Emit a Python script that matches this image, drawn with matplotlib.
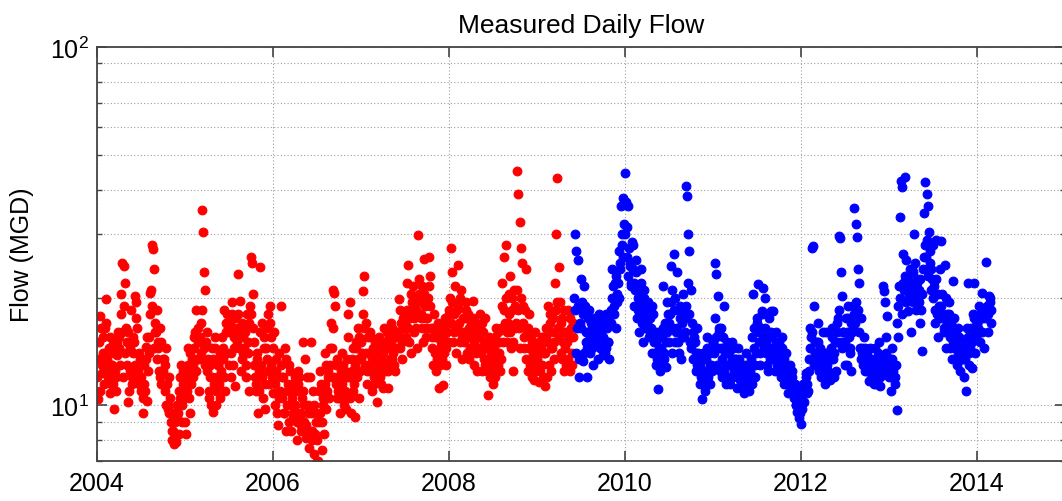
"""
plot.py

Measured daily flow (MGD) on a log axis, two periods shown in red and blue.
Values were read off the reference chart: two interleaved sets of six samples
per month (set "a" carries the peaks, set "b" the body of the band).
"""

import numpy as np
import matplotlib
matplotlib.use("Agg")
import matplotlib.pyplot as plt
from matplotlib.ticker import FixedLocator, LogLocator, NullFormatter

plt.rcParams["font.family"] = ["Liberation Sans", "DejaVu Sans"]
plt.rcParams["mathtext.fontset"] = "custom"
plt.rcParams["mathtext.rm"] = "Liberation Sans"
plt.rcParams["mathtext.it"] = "Liberation Sans:italic"
plt.rcParams["mathtext.bf"] = "Liberation Sans:bold"

# ---- data: flow in MGD, 6 samples per month in each set ----
RED_START = 2004.0            # Jan 2004
BLUE_START = 2009 + 5 / 12    # Jun 2009
SAMPLES_PER_YEAR = 72

red_2004 = [
    10.4, 13.5, 17.8, 12.3, 15.5, 11.5, 16.5, 19.8, 12.0, 14.5, 10.8, 13.0, 14.8, 9.8, 12.5, 11.0, 13.8, 15.5,
    13.0, 20.5, 25.0, 24.5, 22.0, 16.5, 15.0, 10.2, 12.5, 18.5, 11.5, 14.0, 20.2, 19.5, 16.5, 12.0, 14.0, 11.0,
    13.5, 9.5, 11.5, 14.6, 10.3, 12.5, 14.0, 20.6, 28.0, 27.3, 24.0, 17.0, 18.5, 15.0, 12.5, 16.5, 11.5, 13.5,
    13.5, 11.0, 14.5, 9.8, 12.0, 10.5, 9.5, 8.5, 7.8, 9.0, 8.2, 10.0, 8.3, 10.5, 13.0, 9.0, 11.5, 12.0,
]
red_2005 = [
    8.3, 11.0, 14.5, 9.5, 12.5, 13.5, 12.0, 15.5, 18.5, 13.5, 16.5, 11.0, 14.0, 35.0, 30.5, 23.5, 21.0, 16.0,
    13.5, 10.5, 12.0, 14.5, 9.6, 11.5, 15.5, 10.0, 13.0, 11.5, 14.0, 12.5, 14.5, 18.5, 11.0, 16.0, 18.0, 13.0,
    17.0, 12.0, 19.5, 14.5, 11.3, 16.0, 15.0, 23.3, 19.6, 12.5, 17.0, 14.0, 16.0, 12.0, 18.0, 14.0, 11.0, 26.0,
    25.0, 20.4, 15.0, 11.0, 13.5, 9.5, 12.5, 24.3, 17.0, 10.5, 14.5, 9.8, 13.5, 18.0, 11.5, 19.0, 15.5, 10.8,
]
red_2006 = [
    16.0, 10.0, 12.5, 8.8, 14.0, 11.0, 19.0, 12.0, 9.5, 14.5, 8.5, 11.0, 13.0, 10.0, 8.5, 11.5, 9.2, 12.0,
    11.0, 8.0, 12.5, 9.5, 8.5, 10.5, 15.0, 9.0, 8.1, 12.0, 10.0, 7.6, 15.0, 8.5, 11.0, 7.3, 9.5, 7.0,
    7.0, 9.0, 12.5, 7.5, 10.5, 8.3, 14.0, 9.8, 12.0, 10.5, 13.0, 17.0, 21.0, 20.6, 19.0, 13.0, 10.5, 12.0,
    9.5, 11.5, 14.0, 10.5, 12.5, 9.8, 12.0, 18.0, 19.5, 9.5, 13.5, 11.0, 9.3, 15.0, 12.0, 16.5, 10.5, 13.5,
]
red_2007 = [
    14.0, 20.8, 23.0, 17.0, 11.5, 15.5, 13.0, 16.0, 11.0, 14.5, 12.0, 15.0, 10.2, 14.0, 15.5, 12.0, 13.5, 11.2,
    16.5, 12.5, 14.5, 11.2, 15.5, 13.5, 17.0, 13.5, 15.5, 12.5, 16.0, 14.5, 19.8, 14.5, 17.0, 13.5, 16.5, 18.0,
    15.5, 22.0, 24.6, 18.0, 14.0, 19.5, 21.5, 16.0, 18.5, 14.5, 29.8, 20.5, 17.5, 21.5, 15.0, 25.6, 19.0, 16.5,
    20.0, 26.0, 23.0, 15.5, 13.0, 18.0, 15.5, 12.5, 17.0, 11.2, 14.5, 16.5, 11.4, 14.0, 17.5, 13.0, 16.0, 18.0,
]
red_2008 = [
    20.0, 27.5, 23.5, 16.0, 21.5, 14.0, 18.5, 24.6, 15.0, 21.0, 13.5, 17.5, 16.0, 19.5, 14.0, 18.0, 13.5, 17.0,
    15.5, 19.6, 13.0, 17.0, 12.5, 16.5, 14.5, 18.0, 12.5, 16.0, 13.5, 17.5, 13.0, 10.7, 15.5, 12.0, 14.0, 11.5,
    14.5, 12.0, 16.5, 13.0, 15.0, 12.5, 13.5, 22.0, 26.0, 17.0, 28.0, 15.0, 18.0, 23.0, 14.5, 20.0, 12.5, 16.5,
    17.0, 45.0, 39.0, 32.5, 27.5, 25.0, 19.0, 14.5, 24.0, 16.0, 12.5, 18.0, 15.5, 12.0, 14.0, 11.8, 16.0, 13.0,
]
red_2009 = [
    14.5, 11.6, 13.0, 15.5, 12.0, 14.0, 11.3, 15.5, 19.0, 13.0, 17.0, 12.5, 16.0, 13.5, 22.0, 30.0, 43.0, 24.4,
    19.5, 14.0, 17.5, 12.5, 16.0, 13.0, 15.0, 18.5, 12.5, 16.5, 14.0, 17.0,
]

red_2004_b = [
    12.0, 15.0, 11.0, 16.5, 13.0, 14.0, 14.0, 17.0, 13.5, 12.5, 15.5, 11.5, 13.0, 11.5, 14.0, 12.0, 15.0, 16.0,
    14.5, 18.0, 16.0, 12.0, 19.0, 14.0, 13.0, 16.0, 11.0, 14.5, 12.0, 15.5, 15.0, 13.0, 17.5, 12.5, 11.5, 13.5,
    12.0, 10.5, 13.0, 11.0, 13.5, 15.5, 15.5, 18.0, 21.0, 19.0, 14.5, 16.0, 16.0, 13.5, 14.5, 12.0, 15.0, 12.5,
    12.5, 13.0, 10.0, 11.5, 10.0, 9.5, 9.0, 8.0, 8.5, 9.5, 7.9, 9.3, 9.5, 11.0, 12.0, 10.0, 12.5, 10.5,
]
red_2005_b = [
    9.0, 12.0, 13.0, 10.5, 14.0, 11.5, 13.0, 14.5, 16.0, 12.5, 15.0, 13.5, 15.5, 17.0, 18.5, 14.5, 13.0, 15.0,
    12.5, 11.0, 13.0, 10.0, 12.0, 13.5, 14.5, 11.0, 12.0, 13.0, 10.5, 13.5, 15.5, 13.5, 12.0, 17.0, 14.0, 16.5,
    16.0, 14.0, 18.0, 13.0, 15.5, 17.5, 16.5, 18.0, 14.5, 16.0, 13.5, 15.5, 14.5, 16.5, 13.0, 15.0, 17.0, 19.0,
    18.0, 16.5, 13.0, 12.0, 11.5, 14.0, 11.0, 16.0, 13.0, 12.0, 15.5, 11.5, 14.5, 16.5, 12.5, 17.0, 13.0, 12.0,
]
red_2006_b = [
    14.5, 11.5, 13.5, 9.5, 12.0, 10.5, 13.0, 10.5, 12.0, 9.5, 13.5, 10.0, 11.5, 9.0, 12.5, 10.5, 9.5, 11.0,
    10.0, 9.0, 11.5, 12.0, 9.3, 8.8, 11.0, 10.0, 13.5, 8.8, 9.5, 8.5, 12.0, 9.5, 8.0, 10.0, 8.3, 9.0,
    8.0, 11.0, 9.5, 11.5, 9.0, 10.0, 11.5, 13.0, 11.0, 12.5, 14.5, 12.0, 14.5, 16.5, 12.0, 11.5, 13.5, 11.0,
    10.5, 12.5, 11.5, 13.0, 10.0, 11.0, 13.5, 15.5, 12.0, 10.5, 12.5, 14.5, 11.5, 13.0, 14.5, 13.5, 15.5, 12.5,
]
red_2007_b = [
    15.0, 18.0, 16.5, 13.0, 14.0, 12.5, 14.0, 12.5, 15.5, 13.5, 11.5, 14.5, 12.5, 15.0, 13.0, 14.5, 11.5, 12.5,
    14.0, 15.0, 13.0, 16.0, 12.5, 14.5, 15.0, 16.5, 14.0, 13.0, 15.5, 16.0, 16.0, 15.5, 18.5, 15.0, 17.5, 16.5,
    17.0, 18.5, 16.5, 15.0, 17.5, 20.5, 19.0, 17.5, 20.0, 16.5, 18.0, 22.5, 19.5, 18.0, 16.5, 20.5, 17.5, 15.5,
    17.5, 21.5, 19.0, 16.5, 14.5, 16.5, 14.0, 16.0, 13.5, 15.5, 13.0, 15.0, 13.5, 15.5, 16.5, 14.5, 17.0, 15.0,
]
red_2008_b = [
    18.5, 17.0, 19.5, 15.0, 18.0, 16.5, 16.5, 19.0, 17.0, 20.0, 15.5, 16.0, 15.0, 17.5, 18.5, 15.5, 16.5, 14.5,
    14.5, 17.5, 15.0, 16.0, 14.0, 15.5, 15.5, 16.5, 14.0, 17.0, 15.0, 13.0, 14.5, 12.5, 13.5, 15.0, 12.5, 13.0,
    13.5, 15.5, 14.0, 12.5, 16.0, 14.0, 16.5, 19.0, 15.0, 18.5, 20.0, 16.0, 17.0, 20.5, 16.0, 18.5, 15.0, 21.0,
    19.0, 21.0, 18.5, 16.5, 14.5, 20.0, 17.0, 15.5, 18.5, 13.5, 16.5, 14.5, 13.0, 14.5, 15.0, 13.5, 12.5, 14.0,
]
red_2009_b = [
    13.5, 15.0, 12.5, 14.5, 13.0, 15.5, 14.0, 16.5, 12.0, 15.0, 18.0, 14.5, 14.5, 17.5, 15.0, 18.5, 19.5, 16.5,
    15.5, 17.0, 13.5, 15.0, 18.5, 14.5, 16.0, 13.5, 15.5, 17.5, 13.0, 15.5,
]

blue_2009 = [
    30.0, 27.0, 16.5, 25.5, 12.0, 22.5, 19.5, 13.3, 21.5, 15.0, 12.0, 17.5, 18.5, 14.0, 16.5, 13.0, 17.5, 15.0,
    17.0, 13.5, 18.0, 14.5, 16.0, 13.8, 16.5, 14.0, 18.0, 15.0, 13.5, 17.0, 17.0, 24.0, 19.0, 22.0, 16.5, 20.5,
    20.0, 25.0, 36.0, 28.0, 37.8, 44.5,
]
blue_2010 = [
    37.0, 31.5, 36.0, 25.0, 21.5, 28.5, 28.0, 22.0, 25.5, 17.5, 20.0, 16.0, 24.0, 18.5, 15.0, 21.0, 16.5, 19.0,
    19.5, 15.5, 17.5, 14.0, 18.0, 15.0, 16.0, 13.0, 11.1, 14.5, 12.5, 15.5, 21.5, 14.0, 17.0, 12.8, 19.5, 15.0,
    18.0, 24.5, 14.0, 26.5, 20.0, 16.0, 23.5, 15.0, 19.0, 13.5, 17.0, 20.5, 16.0, 41.0, 38.5, 30.0, 27.0, 21.0,
    17.0, 13.5, 15.5, 12.5, 16.5, 14.0, 13.5, 11.5, 10.4, 14.0, 12.0, 11.0, 15.5, 12.0, 14.0, 11.5, 13.0, 15.0,
]
blue_2011 = [
    14.0, 25.0, 23.3, 20.2, 16.5, 12.5, 16.5, 12.0, 19.0, 14.0, 11.5, 15.0, 14.5, 11.5, 13.0, 15.0, 12.0, 13.5,
    13.5, 11.2, 14.5, 12.0, 12.8, 11.5, 12.5, 10.8, 14.0, 11.5, 13.0, 11.0, 13.5, 11.5, 20.4, 14.5, 12.0, 17.0,
    21.8, 16.0, 13.0, 18.3, 21.3, 14.5, 20.0, 15.0, 12.5, 17.5, 13.5, 18.3, 18.3, 14.5, 12.5, 16.0, 13.0, 15.0,
    14.0, 12.0, 15.5, 11.5, 13.0, 14.0, 12.5, 10.8, 13.0, 11.5, 12.0, 11.0, 11.5, 10.0, 9.6, 11.0, 9.2, 8.9,
]
blue_2012 = [
    9.8, 11.5, 10.2, 12.3, 10.8, 11.0, 12.5, 16.5, 27.5, 27.8, 19.0, 14.0, 15.0, 17.0, 12.5, 14.5, 12.0, 16.0,
    14.0, 11.5, 16.0, 12.5, 13.5, 11.8, 13.5, 16.5, 12.0, 15.0, 12.5, 17.0, 29.7, 29.3, 23.5, 20.2, 16.0, 13.0,
    17.5, 13.0, 19.0, 14.5, 12.5, 16.0, 19.0, 35.5, 32.0, 29.6, 24.0, 22.0, 17.5, 14.5, 13.0, 15.5, 12.5, 14.0,
    13.5, 11.7, 14.5, 12.0, 13.0, 11.5, 14.5, 11.5, 13.0, 15.0, 11.3, 12.5, 21.5, 20.8, 19.5, 14.0, 17.8, 12.0,
]
blue_2013 = [
    13.5, 11.0, 14.5, 12.0, 11.5, 13.0, 9.7, 15.5, 33.5, 42.3, 40.8, 26.5, 43.5, 25.5, 20.8, 18.3, 22.0, 16.0,
    24.0, 19.5, 30.0, 18.5, 22.5, 20.0, 21.0, 17.0, 14.2, 24.0, 34.5, 42.0, 39.0, 36.0, 30.5, 25.0, 21.0, 28.0,
    21.5, 17.0, 29.0, 15.5, 19.0, 24.0, 28.7, 20.5, 16.0, 24.6, 14.5, 18.0, 19.5, 14.5, 17.0, 13.5, 22.3, 16.0,
    15.5, 13.0, 16.5, 12.5, 14.5, 13.5, 14.0, 12.0, 11.0, 16.5, 22.0, 13.0, 15.0, 12.7, 18.0, 22.0, 14.0, 17.0,
]
blue_2014 = [
    16.5, 19.0, 15.0, 20.6, 17.5, 14.5, 18.0, 25.1, 16.0, 20.2, 19.5, 17.0,
]

blue_2009_b = [
    20.0, 18.5, 14.0, 19.0, 13.5, 17.0, 16.5, 18.0, 14.0, 19.0, 16.0, 14.5, 16.0, 15.5, 17.0, 14.5, 16.5, 15.5,
    15.0, 16.5, 15.5, 17.5, 14.5, 15.0, 15.5, 17.0, 14.5, 16.5, 15.0, 18.0, 18.5, 20.0, 21.5, 18.0, 23.0, 19.5,
    22.0, 27.0, 24.0, 30.0, 26.0, 32.0,
]
blue_2010_b = [
    30.0, 26.0, 23.0, 27.5, 24.5, 22.0, 24.0, 19.0, 21.0, 23.5, 18.5, 20.5, 19.5, 22.0, 17.0, 20.0, 18.0, 17.5,
    17.0, 18.5, 16.0, 16.5, 19.0, 15.5, 14.0, 15.0, 13.5, 16.0, 13.0, 14.5, 15.5, 16.5, 13.5, 15.0, 16.0, 18.0,
    17.0, 19.5, 21.0, 16.5, 18.5, 15.0, 16.5, 18.5, 14.0, 17.5, 15.5, 18.0, 15.5, 17.5, 19.0, 22.0, 18.0, 15.0,
    14.5, 16.0, 13.5, 15.0, 14.0, 13.0, 12.5, 13.0, 12.0, 13.5, 11.5, 12.5, 13.5, 14.5, 12.5, 13.0, 14.5, 12.5,
]
blue_2011_b = [
    15.0, 17.5, 15.5, 13.0, 14.5, 16.0, 14.5, 13.5, 15.5, 12.5, 13.0, 14.0, 13.0, 14.0, 12.0, 13.5, 14.5, 12.5,
    12.5, 13.0, 12.0, 13.5, 11.8, 12.5, 11.5, 12.0, 13.0, 12.5, 11.8, 12.0, 12.5, 13.0, 15.5, 16.5, 13.0, 14.0,
    17.5, 15.0, 14.0, 16.5, 18.0, 15.5, 16.5, 14.0, 13.0, 15.5, 14.5, 16.0, 15.5, 13.5, 14.0, 15.0, 13.5, 14.5,
    13.5, 12.5, 14.5, 12.5, 13.5, 12.5, 12.0, 11.5, 12.5, 11.5, 12.5, 11.5, 10.5, 11.0, 10.0, 10.5, 9.8, 9.5,
]
blue_2012_b = [
    10.5, 11.0, 11.5, 11.0, 12.0, 11.5, 13.5, 14.5, 15.5, 16.0, 13.0, 15.0, 14.0, 13.5, 15.0, 13.0, 14.0, 13.5,
    13.0, 12.5, 14.0, 13.0, 12.0, 13.5, 14.5, 15.5, 13.5, 14.0, 15.0, 16.0, 17.5, 18.5, 15.0, 14.5, 16.0, 15.0,
    15.0, 16.0, 17.5, 15.5, 14.0, 17.0, 16.5, 18.0, 17.0, 19.5, 18.5, 16.0, 14.5, 13.5, 14.0, 13.0, 14.5, 13.5,
    12.5, 13.0, 12.5, 13.5, 12.0, 12.5, 12.0, 13.5, 12.5, 14.0, 12.0, 13.5, 13.0, 12.5, 13.5, 15.5, 12.5, 13.0,
]
blue_2013_b = [
    12.5, 12.0, 13.5, 12.5, 13.0, 12.0, 17.0, 19.0, 21.5, 20.0, 18.0, 22.0, 21.0, 23.0, 19.5, 22.5, 20.0, 24.0,
    21.5, 23.5, 20.5, 25.0, 21.0, 22.0, 19.5, 22.5, 18.5, 20.5, 26.0, 28.0, 26.0, 29.0, 23.0, 27.0, 24.0, 22.5,
    20.0, 18.5, 22.5, 18.0, 20.5, 17.5, 19.0, 17.5, 18.0, 16.5, 20.0, 17.0, 16.5, 18.0, 15.5, 17.5, 15.0, 17.5,
    14.5, 15.0, 14.0, 15.5, 13.5, 14.5, 13.5, 14.5, 13.5, 15.0, 15.5, 14.0, 14.5, 16.5, 15.0, 17.5, 16.0, 15.5,
]
blue_2014_b = [
    17.0, 16.0, 18.0, 17.5, 16.0, 18.5, 18.5, 17.5, 19.0, 18.0, 20.0, 18.5,
]

x_ticks = [2004, 2006, 2008, 2010, 2012, 2014]


def sample_times(start, n, offset):
    """Decimal-year position of each sample within its 1/72-year slot."""
    return start + (np.arange(n) + offset) / SAMPLES_PER_YEAR


def series(start, set_a, set_b):
    a = np.array(set_a)
    b = np.array(set_b)
    t = np.concatenate([sample_times(start, len(a), 0.75), sample_times(start, len(b), 0.25)])
    return t, np.concatenate([a, b])


def main():
    red_t, red_flow = series(
        RED_START,
        red_2004 + red_2005 + red_2006 + red_2007 + red_2008 + red_2009,
        red_2004_b + red_2005_b + red_2006_b + red_2007_b + red_2008_b + red_2009_b,
    )
    blue_t, blue_flow = series(
        BLUE_START,
        blue_2009 + blue_2010 + blue_2011 + blue_2012 + blue_2013 + blue_2014,
        blue_2009_b + blue_2010_b + blue_2011_b + blue_2012_b + blue_2013_b + blue_2014_b,
    )

    fig = plt.figure(figsize=(10.62, 5.02), dpi=100)
    ax = fig.add_axes([97 / 1062, 40 / 502, 968 / 1062, 414 / 502])

    ax.plot(red_t, red_flow, ls="none", marker="o", ms=6.3,
            mfc="#ff0000", mec="#ff0000", mew=0.8)
    ax.plot(blue_t, blue_flow, ls="none", marker="o", ms=6.3,
            mfc="#0000ff", mec="#0000ff", mew=0.8)

    ax.set_yscale("log")
    ax.set_ylim(7, 100)
    ax.set_xlim(2004, 2015)
    ax.xaxis.set_major_locator(FixedLocator(x_ticks))
    ax.set_xticklabels([str(t) for t in x_ticks])
    ax.yaxis.set_minor_locator(LogLocator(base=10, subs=np.arange(2, 10)))
    ax.yaxis.set_minor_formatter(NullFormatter())

    # MATLAB-like dotted grid
    ax.grid(True, axis="y", which="both", ls=(0, (1, 2)), color="#a0a0a0", lw=0.8)
    ax.grid(True, axis="x", which="major", ls=(0, (1, 2)), color="#a0a0a0", lw=0.8)
    ax.set_axisbelow(True)

    for sp in ax.spines.values():
        sp.set_color("#444444")
        sp.set_linewidth(1.3)
    ax.tick_params(which="both", direction="in", top=True, right=True,
                   color="#444444", labelsize=18)
    ax.tick_params(which="major", length=7, width=1.2)
    ax.tick_params(which="minor", length=3.5, width=1.0)
    ax.tick_params(axis="x", pad=7)
    ax.tick_params(axis="y", pad=6)

    ax.set_title("Measured Daily Flow", fontsize=19, pad=11)
    ax.set_ylabel("Flow (MGD)", fontsize=18)
    ax.yaxis.set_label_coords(-0.065, 0.5)

    fig.savefig("out.png", dpi=100)
    plt.close(fig)


if __name__ == "__main__":
    main()
